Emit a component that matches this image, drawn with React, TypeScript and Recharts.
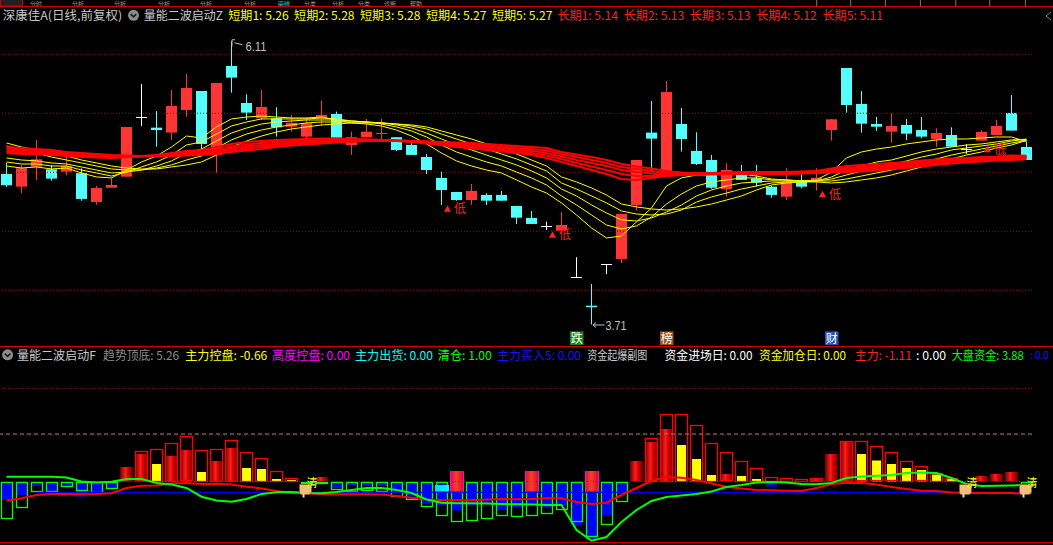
import React from 'react';
import {
  ComposedChart,
  Bar,
  Line,
  XAxis,
  YAxis,
  ReferenceLine,
  ReferenceDot,
} from 'recharts';

// ---------- main panel data (daily candles, 深康佳A) ----------
const opens = [4.986, 4.878, 5.047, 5.025, 5.005, 4.992, 4.748, 4.869, 4.963, 5.466,
  5.378, 5.336, 5.528, 5.689, 5.147, 5.901, 5.587, 5.458, 5.458, 5.386,
  5.302, 5.463, 5.494, 5.231, 5.297, 5.327, 5.297, 5.231, 5.13, 4.952,
  4.833, 4.765, 4.808, 4.808, 4.714, 4.613, 4.547, 4.505, 4.11, 3.869,
  4.22, 4.265, 4.723, 5.336, 4.992, 5.409, 5.181, 5.104, 4.856, 4.986,
  4.949, 4.878, 4.793, 4.92, 4.929, 5.358, 5.884, 5.579, 5.409, 5.344,
  5.401, 5.358, 5.28, 5.316, 5.2, 5.268, 5.316, 5.503, 5.214];
const highs = [5.08, 5.062, 5.274, 5.062, 5.132, 5.034, 4.884, 4.949, 5.384, 5.748,
  5.519, 5.697, 5.833, 5.689, 5.757, 6.11, 5.661, 5.697, 5.551, 5.486,
  5.466, 5.607, 5.514, 5.344, 5.452, 5.452, 5.297, 5.246, 5.155, 5.005,
  4.833, 4.901, 4.822, 4.842, 4.714, 4.672, 4.581, 4.664, 4.28, 4.053,
  4.22, 4.647, 5.104, 5.604, 5.774, 5.545, 5.339, 5.147, 5.076, 5.062,
  5.062, 4.887, 5.034, 4.997, 5.034, 5.449, 5.884, 5.689, 5.471, 5.5,
  5.452, 5.469, 5.373, 5.381, 5.237, 5.358, 5.443, 5.655, 5.259];
const lows = [4.875, 4.822, 4.934, 4.929, 4.977, 4.759, 4.725, 4.869, 4.963, 5.392,
  5.217, 5.274, 5.471, 5.189, 4.997, 5.675, 5.443, 5.443, 5.302, 5.344,
  5.274, 5.392, 5.251, 5.147, 5.297, 5.274, 5.18, 5.147, 4.986, 4.723,
  4.759, 4.723, 4.723, 4.759, 4.562, 4.562, 4.51, 4.505, 4.11, 3.71,
  4.136, 4.229, 4.675, 5.014, 4.99, 5.175, 5.062, 4.86, 4.793, 4.935,
  4.878, 4.785, 4.765, 4.864, 4.844, 5.268, 5.505, 5.336, 5.35, 5.251,
  5.274, 5.288, 5.217, 5.217, 5.155, 5.268, 5.316, 5.353, 5.104];
const closes = [4.89, 5.034, 5.11, 4.946, 5.053, 4.774, 4.867, 4.892, 5.384, 5.466,
  5.358, 5.562, 5.714, 5.24, 5.757, 5.802, 5.505, 5.553, 5.381, 5.42,
  5.415, 5.486, 5.293, 5.297, 5.344, 5.333, 5.189, 5.147, 5.019, 4.85,
  4.765, 4.842, 4.759, 4.759, 4.615, 4.562, 4.547, 4.553, 4.11, 3.856,
  4.22, 4.647, 5.104, 5.285, 5.68, 5.282, 5.07, 4.869, 5.019, 4.935,
  4.912, 4.808, 4.92, 4.878, 4.954, 5.449, 5.57, 5.412, 5.386, 5.392,
  5.327, 5.302, 5.333, 5.217, 5.2, 5.342, 5.392, 5.353, 5.104];

// 短期1..5 (yellow)
const short1 = [5.053, 5.036, 5.045, 5.028, 5.036, 4.994, 4.96, 4.952, 5.019, 5.087,
  5.138, 5.214, 5.307, 5.291, 5.384, 5.452, 5.468, 5.477, 5.468, 5.46,
  5.46, 5.468, 5.443, 5.418, 5.409, 5.392, 5.358, 5.307, 5.24, 5.163,
  5.096, 5.053, 5.019, 4.994, 4.935, 4.875, 4.824, 4.74, 4.638, 4.528,
  4.443, 4.46, 4.579, 4.697, 4.884, 4.952, 4.977, 4.977, 4.985, 4.985,
  4.968, 4.943, 4.935, 4.926, 4.935, 5.002, 5.121, 5.172, 5.197, 5.214,
  5.24, 5.257, 5.274, 5.282, 5.282, 5.291, 5.299, 5.299, 5.26];
const short2 = [5.087, 5.07, 5.07, 5.053, 5.053, 5.019, 4.994, 4.968, 5.002, 5.045,
  5.087, 5.146, 5.231, 5.257, 5.324, 5.392, 5.426, 5.452, 5.452, 5.452,
  5.452, 5.46, 5.452, 5.435, 5.426, 5.409, 5.384, 5.35, 5.299, 5.231,
  5.172, 5.129, 5.087, 5.053, 5.002, 4.952, 4.892, 4.799, 4.723, 4.638,
  4.553, 4.519, 4.545, 4.621, 4.731, 4.816, 4.884, 4.918, 4.935, 4.952,
  4.952, 4.935, 4.935, 4.926, 4.926, 4.96, 5.019, 5.053, 5.087, 5.104,
  5.138, 5.172, 5.197, 5.214, 5.231, 5.24, 5.257, 5.274, 5.28];
const short3 = [5.121, 5.104, 5.096, 5.079, 5.07, 5.045, 5.019, 4.994, 5.002, 5.019,
  5.053, 5.096, 5.163, 5.197, 5.265, 5.333, 5.375, 5.409, 5.426, 5.435,
  5.443, 5.443, 5.443, 5.435, 5.426, 5.418, 5.401, 5.375, 5.333, 5.282,
  5.231, 5.189, 5.146, 5.104, 5.062, 5.011, 4.952, 4.858, 4.799, 4.723,
  4.655, 4.596, 4.587, 4.613, 4.663, 4.723, 4.799, 4.85, 4.884, 4.909,
  4.918, 4.926, 4.926, 4.926, 4.926, 4.943, 4.977, 5.011, 5.036, 5.062,
  5.096, 5.129, 5.155, 5.189, 5.206, 5.223, 5.24, 5.265, 5.28];
const short4 = [5.223, 5.189, 5.163, 5.129, 5.104, 5.079, 5.053, 5.028, 5.019, 5.019,
  5.036, 5.062, 5.104, 5.138, 5.206, 5.274, 5.324, 5.358, 5.384, 5.401,
  5.418, 5.426, 5.426, 5.426, 5.426, 5.418, 5.409, 5.392, 5.367, 5.324,
  5.282, 5.24, 5.197, 5.155, 5.113, 5.062, 5.011, 4.909, 4.858, 4.799,
  4.74, 4.672, 4.646, 4.638, 4.646, 4.68, 4.748, 4.791, 4.824, 4.858,
  4.884, 4.909, 4.918, 4.918, 4.926, 4.926, 4.943, 4.968, 4.994, 5.019,
  5.053, 5.087, 5.113, 5.146, 5.172, 5.197, 5.223, 5.248, 5.27];
const short5 = [5.248, 5.214, 5.189, 5.163, 5.138, 5.104, 5.079, 5.053, 5.036, 5.028,
  5.028, 5.045, 5.062, 5.087, 5.146, 5.214, 5.265, 5.307, 5.341, 5.367,
  5.384, 5.401, 5.409, 5.418, 5.418, 5.418, 5.409, 5.401, 5.384, 5.35,
  5.316, 5.282, 5.24, 5.197, 5.155, 5.104, 5.053, 4.96, 4.918, 4.867,
  4.807, 4.731, 4.706, 4.689, 4.68, 4.689, 4.706, 4.731, 4.765, 4.799,
  4.85, 4.892, 4.909, 4.918, 4.918, 4.909, 4.918, 4.935, 4.952, 4.977,
  5.011, 5.045, 5.079, 5.113, 5.146, 5.172, 5.206, 5.231, 5.27];

// 长期1..5 (red)
const long1 = [5.163, 5.155, 5.155, 5.146, 5.138, 5.129, 5.125, 5.121, 5.129, 5.138,
  5.146, 5.163, 5.18, 5.189, 5.214, 5.24, 5.257, 5.265, 5.274, 5.278,
  5.282, 5.286, 5.286, 5.282, 5.278, 5.274, 5.265, 5.257, 5.244, 5.231,
  5.214, 5.202, 5.189, 5.176, 5.163, 5.146, 5.121, 5.087, 5.053, 5.019,
  4.985, 4.943, 4.935, 4.952, 4.968, 4.985, 4.994, 4.994, 4.998, 5.002,
  5.002, 5.002, 5.002, 5.007, 5.011, 5.032, 5.053, 5.062, 5.07, 5.079,
  5.087, 5.1, 5.108, 5.117, 5.121, 5.129, 5.134, 5.142, 5.14];
const long2 = [5.176, 5.168, 5.163, 5.155, 5.146, 5.138, 5.129, 5.125, 5.129, 5.134,
  5.142, 5.155, 5.168, 5.176, 5.197, 5.219, 5.236, 5.248, 5.257, 5.265,
  5.269, 5.274, 5.278, 5.278, 5.278, 5.274, 5.269, 5.261, 5.252, 5.24,
  5.227, 5.214, 5.202, 5.189, 5.176, 5.163, 5.142, 5.113, 5.079, 5.049,
  5.019, 4.985, 4.968, 4.968, 4.968, 4.977, 4.985, 4.99, 4.994, 4.998,
  4.998, 4.998, 4.998, 5.002, 5.007, 5.019, 5.036, 5.045, 5.053, 5.066,
  5.074, 5.087, 5.096, 5.104, 5.113, 5.117, 5.125, 5.129, 5.13];
const long3 = [5.189, 5.18, 5.172, 5.163, 5.155, 5.146, 5.138, 5.129, 5.129, 5.134,
  5.138, 5.146, 5.155, 5.163, 5.18, 5.202, 5.219, 5.231, 5.24, 5.252,
  5.257, 5.265, 5.269, 5.274, 5.274, 5.274, 5.269, 5.265, 5.257, 5.248,
  5.24, 5.227, 5.214, 5.206, 5.193, 5.18, 5.163, 5.134, 5.104, 5.079,
  5.053, 5.019, 5.002, 4.99, 4.977, 4.977, 4.981, 4.985, 4.99, 4.994,
  4.994, 4.994, 4.994, 4.998, 5.002, 5.011, 5.024, 5.032, 5.041, 5.053,
  5.062, 5.074, 5.083, 5.091, 5.104, 5.108, 5.117, 5.121, 5.13];
const long4 = [5.202, 5.193, 5.185, 5.176, 5.163, 5.155, 5.146, 5.138, 5.138, 5.138,
  5.138, 5.142, 5.146, 5.155, 5.168, 5.185, 5.202, 5.214, 5.227, 5.24,
  5.248, 5.257, 5.261, 5.265, 5.269, 5.269, 5.269, 5.265, 5.261, 5.252,
  5.248, 5.24, 5.227, 5.219, 5.206, 5.197, 5.185, 5.155, 5.129, 5.104,
  5.079, 5.045, 5.028, 5.011, 4.994, 4.985, 4.981, 4.981, 4.985, 4.99,
  4.99, 4.99, 4.99, 4.994, 4.998, 5.002, 5.011, 5.019, 5.028, 5.041,
  5.049, 5.062, 5.07, 5.083, 5.091, 5.1, 5.108, 5.113, 5.12];
const long5 = [5.214, 5.206, 5.197, 5.189, 5.172, 5.163, 5.155, 5.146, 5.142, 5.138,
  5.138, 5.138, 5.142, 5.146, 5.155, 5.172, 5.185, 5.197, 5.214, 5.227,
  5.236, 5.244, 5.252, 5.257, 5.265, 5.265, 5.265, 5.265, 5.261, 5.257,
  5.252, 5.248, 5.24, 5.231, 5.223, 5.214, 5.206, 5.172, 5.151, 5.129,
  5.104, 5.07, 5.049, 5.032, 5.011, 4.998, 4.99, 4.985, 4.985, 4.985,
  4.985, 4.985, 4.985, 4.99, 4.994, 4.998, 5.002, 5.007, 5.015, 5.028,
  5.036, 5.049, 5.062, 5.074, 5.083, 5.091, 5.1, 5.104, 5.11];

const priceGrid = [6.0, 5.5, 5.0, 4.5, 4.0];
const lowMarkIdx = [29, 36, 54, 65];
const lowMarkPrice = [4.72, 4.5, 4.844, 5.225];
const newsIdx = [38, 44, 55];
const newsText = ['跌', '榜', '财'];
const highIdx = 15;
const highPrice = 6.11;
const lowIdx = 39;
const lowPrice = 3.71;

const shortNames = ['短期1', '短期2', '短期3', '短期4', '短期5'];
const shortLast = ['5.26', '5.28', '5.28', '5.27', '5.27'];
const longNames = ['长期1', '长期2', '长期3', '长期4', '长期5'];
const longLast = ['5.14', '5.13', '5.13', '5.12', '5.11'];

// ---------- sub panel data (量能二波启动F) ----------
const n = null;
const volOutline = [n, n, n, n, n, n, n, n, n, 3.05,
  3.25, 3.85, 4.55, 3.15, 3.25, 4.15, 2.95, 2.35, 1.05, 0.35,
  n, n, n, n, n, n, n, n, n, n,
  n, n, n, n, n, n, n, n, n, n,
  n, n, n, 4.4, 6.8, 6.8, 5.7, 3.9, 2.9, 2.1,
  1.4, 0.5, 0.4, 0.3, 0.4, n, 4.1, 4.05, 3.55, 2.9,
  2.1, 1.5, 0.9, 0.4, n, n, n, n, n];
const volFill = [n, n, n, n, n, n, n, n, 1.45, 2.75,
  n, 2.55, 3.15, n, 2.05, 3.35, n, n, n, n,
  n, 0.45, n, n, n, n, n, n, n, n,
  n, n, n, n, n, n, n, n, n, n,
  n, n, 2.05, 3.95, 5.25, n, n, n, 0.75, n,
  n, n, n, n, 0.25, 2.75, 3.95, n, n, n,
  n, n, n, n, n, 0.55, 0.75, 0.95, n];
const volYellow = [n, n, n, n, n, n, n, n, n, n,
  1.75, n, n, 0.95, n, n, 1.35, 1.25, 0.25, 0.15,
  n, n, n, n, n, n, n, n, n, n,
  n, n, n, n, n, n, n, n, n, n,
  n, n, n, n, n, 3.65, 2.25, 0.65, n, 0.55,
  0.25, n, n, n, n, n, n, 2.75, 2.1, 1.75,
  1.35, 1.15, 0.7, 0.3, n, n, n, n, n];
const fundBlue = [-1.85, -1.35, -0.45, -1.0, -0.45, -1.5, -1.15, -0.75, n, n,
  n, n, n, n, n, n, n, n, n, n,
  n, n, -0.65, -0.35, -0.45, -0.45, -1.0, -1.5, -2.2, -2.35,
  -2.9, -2.35, -2.2, -2.85, -2.6, -2.35, -2.65, -2.35, -4.4, -5.85,
  -3.4, -1.2, n, n, n, n, n, n, n, n,
  n, -0.5, n, n, n, n, n, n, n, n,
  n, n, n, n, n, n, n, n, -0.75];
const fundOutline = [-3.65, -2.6, -1.0, -1.0, -0.5, -0.9, -1.1, -0.65, n, n,
  n, n, n, n, n, n, n, n, n, n,
  -0.1, -0.1, -0.75, -1.0, -0.85, -1.0, -1.5, -1.85, -2.5, -3.35,
  -4.0, -3.85, -3.7, -3.35, -3.45, -3.35, -3.2, -2.8, -4.0, -5.45,
  -4.3, -2.0, n, n, n, n, n, n, n, n,
  n, n, n, n, n, n, n, n, n, n,
  n, n, n, n, n, n, n, n, -0.45];
const mainForce = [-1.92, -1.68, -1.35, -1.25, -1.25, -1.28, -1.25, -1.18, -0.65, -0.42,
  -0.4, -0.2, -0.15, -0.25, -0.22, -0.3, -0.52, -0.7, -0.95, -1.15,
  -1.18, -1.28, -1.28, -1.28, -1.28, -1.3, -1.45, -1.62, -1.8, -1.88,
  -1.88, -1.88, -1.8, -1.75, -1.78, -1.75, -1.68, -1.68, -2.05, -2.25,
  -2.12, -1.35, -0.65, 0.05, 0.45, 0.38, 0.15, -0.2, -0.52, -0.7,
  -0.85, -0.88, -0.92, -0.95, -0.65, -0.25, -0.12, -0.15, -0.3, -0.55,
  -0.75, -0.92, -0.95, -1.1, -1.15, -1.15, -1.15, -1.15, -1.25];
const marketFund = [0.48, 0.48, 0.48, 0.48, 0.4, 0.0, -0.1, -0.02, 0.25, 0.25,
  -0.15, -0.3, -0.65, -1.52, -1.9, -2.02, -1.75, -1.25, -1.08, -1.05,
  -1.15, -1.18, -1.05, -0.85, -0.65, -0.65, -0.85, -1.15, -1.8, -2.12,
  -2.18, -2.18, -2.2, -2.25, -2.28, -2.3, -2.35, -2.35, -4.85, -5.92,
  -5.55, -4.05, -2.85, -1.95, -1.55, -1.4, -1.25, -1.0, -0.55, -0.35,
  -0.1, -0.05, -0.1, -0.25, -0.28, -0.15, 0.35, 0.5, 0.58, 0.65,
  0.85, 0.9, 0.85, 0.35, -0.25, -0.45, -0.42, -0.4, -0.35];
const burstIdx = [30, 35, 39];
const burstRange = [-1.02, 1.05];
const entryIdx = [29];
const entryRange = [-1.0, -0.35];
const clearIdx = [20, 64, 68];
const baseLevel = -1.08;
const trendLevel = 4.75;
const subGrid = [9.3, 4.65, 0];

const subHeader = [
  { t: '量能二波启动F', c: '#c8c8c8' },
  { t: '趋势顶底: 5.26', c: '#8c8c8c' },
  { t: '主力控盘: -0.66', c: '#ffff00' },
  { t: '高度控盘: 0.00', c: '#ff00ff' },
  { t: '主力出货: 0.00', c: '#00ffff' },
  { t: '清仓: 1.00', c: '#00ff00' },
  { t: '主力买入5: 0.00', c: '#1414ff' },
  { t: '资金起爆副图', c: '#c8c8c8' },
  { t: '资金进场日: 0.00', c: '#ffffff' },
  { t: '资金加仓日: 0.00', c: '#ffff00' },
  { t: '主力: -1.11', c: '#ff2020' },
  { t: ': 0.00', c: '#ffffff' },
  { t: '大盘资金: 3.88', c: '#00ff00' },
];
const subHeaderX = [16.9, 103.1, 185.3, 272.1, 355, 437.8, 497, 587.3, 664.5, 759, 854.8, 916, 951.7];
const subHeaderW = [79, 76, 82, 78, 78, 54, 84, 60, 88, 87, 57, 30, 72];
const subTail = ': 0.0';

const mainRows = opens.map((open, i) => ({
  i,
  open,
  high: highs[i],
  low: lows[i],
  close: closes[i],
  s1: short1[i], s2: short2[i], s3: short3[i], s4: short4[i], s5: short5[i],
  l1: long1[i], l2: long2[i], l3: long3[i], l4: long4[i], l5: long5[i],
}));

const subRows = opens.map((_, i) => ({
  i,
  outline: volOutline[i],
  fill: volFill[i],
  yellow: volYellow[i],
  blue: fundBlue[i],
  green: fundOutline[i],
  red: mainForce[i],
  market: marketFund[i],
  burst: burstIdx.includes(i) ? burstRange : null,
  entry: entryIdx.includes(i) ? entryRange : null,
}));

const CJK = '"Noto Sans CJK SC", "Noto Sans", sans-serif';
const LATIN = '"Liberation Sans", Arial, sans-serif';
const UP = '#ff3434';
const DOWN = '#54ffff';
const FLAT = '#ffffff';

function box(y: number, height: number) {
  return { top: Math.min(y, y + height), h: Math.abs(height) };
}

function Candle(props: any) {
  const { x, y, width, height, payload } = props;
  if (!payload) return null;
  const { open, close, high, low } = payload;
  const { top, h } = box(y, height);
  const k = h / (high - low || 1);
  const py = (v: number) => top + (high - v) * k;
  const color = close > open ? UP : close < open ? DOWN : FLAT;
  const cx = Math.floor(x + width / 2) + 0.5;
  const left = Math.round(x);
  const w = Math.round(width);
  const bTop = py(Math.max(open, close));
  const bBot = py(Math.min(open, close));
  return (
    <g>
      <line x1={cx} x2={cx} y1={top} y2={top + h} stroke={color} strokeWidth={1} />
      {bBot - bTop < 1.3 ? (
        <line x1={left} x2={left + w} y1={Math.round(bTop) + 0.5} y2={Math.round(bTop) + 0.5} stroke={color} />
      ) : (
        <rect x={left} y={bTop} width={w} height={bBot - bTop} fill={color} />
      )}
    </g>
  );
}

function OutlineBar(color: string) {
  return (p: any) => {
    const { top, h } = box(p.y, p.height);
    const left = Math.round(p.x) + 0.5;
    return (
      <rect x={left} y={Math.round(top) + 0.5} width={Math.round(p.width) - 1} height={Math.max(Math.round(h) - 1, 1)}
        fill="none" stroke={color} strokeWidth={1.3} />
    );
  };
}

function SolidBar(color: string) {
  return (p: any) => {
    const { top, h } = box(p.y, p.height);
    return <rect x={Math.round(p.x)} y={top} width={Math.round(p.width)} height={h} fill={color} />;
  };
}

function CylinderBar(p: any) {
  const { top, h } = box(p.y, p.height);
  const id = `cyl-${p.index}`;
  return (
    <g>
      <defs>
        <linearGradient id={id} x1="0" x2="1" y1="0" y2="0">
          <stop offset="0" stopColor="#6a0000" />
          <stop offset="0.42" stopColor="#ff1c1c" />
          <stop offset="0.6" stopColor="#e00000" />
          <stop offset="1" stopColor="#640000" />
        </linearGradient>
      </defs>
      <rect x={Math.round(p.x)} y={top} width={Math.round(p.width)} height={h} fill={`url(#${id})`} />
    </g>
  );
}

function BurstBar(p: any) {
  const { top, h } = box(p.y, p.height);
  const id = `burst-${p.index}`;
  const left = Math.round(p.x);
  const w = Math.round(p.width);
  return (
    <g>
      <defs>
        <linearGradient id={id} x1="0" x2="1" y1="0" y2="0">
          <stop offset="0" stopColor="#d01818" />
          <stop offset="0.45" stopColor="#ff3a3a" />
          <stop offset="1" stopColor="#c81010" />
        </linearGradient>
      </defs>
      <rect x={left} y={top} width={w} height={h} fill={`url(#${id})`} />
      <line x1={left + 0.5} x2={left + 0.5} y1={top} y2={top + h} stroke="#ff00ff" />
      <line x1={left + w - 0.5} x2={left + w - 0.5} y1={top} y2={top + h} stroke="#ff00ff" />
    </g>
  );
}

function EntryBar(p: any) {
  const { top, h } = box(p.y, p.height);
  const id = `entry-${p.index}`;
  return (
    <g>
      <defs>
        <linearGradient id={id} x1="0" x2="1" y1="0" y2="0">
          <stop offset="0" stopColor="#00d8ff" />
          <stop offset="1" stopColor="#00ffff" />
        </linearGradient>
      </defs>
      <rect x={Math.round(p.x)} y={top} width={Math.round(p.width)} height={h} fill={`url(#${id})`} />
    </g>
  );
}

function LowMark({ cx, cy }: any) {
  return (
    <g>
      <path d={`M${cx + 2.5} ${cy + 6.5} L${cx + 6} ${cy} L${cx + 9.5} ${cy + 6.5} Z`} fill="#ff2020" />
      <text x={cx + 12.5} y={cy + 8} fill="#ff2020" fontSize={12} fontFamily={CJK}>低</text>
    </g>
  );
}

function HighLabel({ cx, cy }: any) {
  return (
    <g stroke="#c0c0c0" fill="none">
      <path d={`M${cx + 0.5} ${cy + 5} V${cy - 1.5} H${cx + 3.5} M${cx + 3} ${cy + 1.5} L${cx + 11} ${cy + 3.5}`} />
      <text x={cx + 14} y={cy + 10} stroke="none" fill="#c0c0c0" fontSize={13} fontFamily={LATIN}
        textLength={21} lengthAdjust="spacingAndGlyphs">{highPrice.toFixed(2)}</text>
    </g>
  );
}

function LowLabel({ cx, cy }: any) {
  return (
    <g stroke="#c0c0c0" fill="none">
      <path d={`M${cx + 1.5} ${cy + 0.5} H${cx + 13} M${cx + 1.5} ${cy + 0.5} L${cx + 4.5} ${cy - 2} M${cx + 1.5} ${cy + 0.5} L${cx + 4.5} ${cy + 3}`} />
      <text x={cx + 14} y={cy + 5.5} stroke="none" fill="#c0c0c0" fontSize={13} fontFamily={LATIN}
        textLength={21} lengthAdjust="spacingAndGlyphs">{lowPrice.toFixed(2)}</text>
    </g>
  );
}

const NEWS_BG = ['#0a8a1a', '#9a5418', '#2654b0'];

function NewsTag({ cx, cy, text, bg }: any) {
  return (
    <g>
      <rect x={cx - 6.5} y={cy - 12} width={13.5} height={14} fill={bg} />
      <text x={cx + 0.25} y={cy - 0.5} textAnchor="middle" fill="#ffffff" fontSize={12} fontFamily={CJK}>{text}</text>
    </g>
  );
}

function ClearIcon({ cx, cy }: any) {
  return (
    <g>
      <path d={`M${cx - 7} ${cy + 3} h9 a3 3 0 0 1 3 3 v4 a3 3 0 0 1 -3 3 h-7 a2 2 0 0 1 -2 -2 z`} fill="#f0c07a" stroke="#8a5a2a" strokeWidth={0.8} />
      <rect x={cx - 4} y={cy + 12} width={2} height={4} fill="#e8d8c0" />
      <text x={cx} y={cy + 5.5} fill="#ffff00" fontSize={11} fontFamily={CJK}>清</text>
    </g>
  );
}

function MenuIcon({ cx, cy }: { cx: number; cy: number }) {
  return (
    <g>
      <circle cx={cx} cy={cy} r={5.5} fill="#8c8c8c" />
      <path d={`M${cx - 2.8} ${cy - 1.2} L${cx} ${cy + 1.6} L${cx + 2.8} ${cy - 1.2}`} stroke="#1c1c1c" strokeWidth={1.6} fill="none" />
    </g>
  );
}

function Label({ x, y, w, c, t }: { x: number; y: number; w: number; c: string; t: string }) {
  return (
    <text x={x} y={y} fill={c} fontSize={12} fontFamily={CJK} textLength={w} lengthAdjust="spacingAndGlyphs">{t}</text>
  );
}

const shortX = [228.2, 294.1, 360, 426, 491.9];
const longX = [557.4, 623.7, 690, 756.2, 822.5];
const tabLines = [816.7, 850.7, 885.4, 920.4, 955.8, 989.8, 1025.4];
const menuX = [30, 72, 114, 158, 200, 244, 278, 304, 332, 358, 384, 410];
const menuText = ['分时', '分析', '分析', '分析', '分析', '分析', '画线', '分类', '分析', '分类', '诊断', '帮助'];

function Overlay() {
  return (
    <svg width={1053} height={545} style={{ position: 'absolute', left: 0, top: 0, pointerEvents: 'none' }}>
      {/* menu bar strip above the header */}
      {menuX.map((x, k) => (
        <text key={k} x={x} y={5.5} fill={k === 6 ? '#00e0e0' : '#9a9a9a'} fontSize={6} fontFamily={CJK}>{menuText[k]}</text>
      ))}
      <rect x={0.5} y={-1} width={22} height={7} fill="#202020" stroke="#d00000" />
      {tabLines.map((x) => (
        <line key={x} x1={x} x2={x} y1={0} y2={6} stroke="#7a7a7a" />
      ))}
      <line x1={0} x2={1053} y1={6.5} y2={6.5} stroke="#d00000" />
      <path d="M1051 12 L1046 16 L1051 20" stroke="#8a8a8a" fill="none" />

      {/* main header */}
      <Label x={2.7} y={19.5} w={119.5} c="#c8c8c8" t="深康佳A(日线,前复权)" />
      <MenuIcon cx={133.5} cy={15.3} />
      <Label x={143.7} y={19.5} w={79.4} c="#c8c8c8" t="量能二波启动Z" />
      {shortNames.map((s, k) => (
        <Label key={s} x={shortX[k]} y={19.5} w={60.5} c="#ffff00" t={`${s}: ${shortLast[k]}`} />
      ))}
      {longNames.map((s, k) => (
        <Label key={s} x={longX[k]} y={19.5} w={60.5} c="#ff2020" t={`${s}: ${longLast[k]}`} />
      ))}

      {/* panel separators */}
      <line x1={0} x2={1053} y1={346.5} y2={346.5} stroke="#d00000" />
      <line x1={0} x2={1053} y1={542.5} y2={542.5} stroke="#d00000" />

      {/* sub header */}
      <MenuIcon cx={7.6} cy={354.8} />
      {subHeader.map((h, k) => (
        <Label key={k} x={subHeaderX[k]} y={359.5} w={subHeaderW[k]} c={h.c} t={h.t} />
      ))}
      <text x={1030} y={359} fill="#1414ff" fontSize={10} fontFamily={CJK}>{subTail}</text>
    </svg>
  );
}

const shortKeys = ['s1', 's2', 's3', 's4', 's5'];
const longKeys = ['l1', 'l2', 'l3', 'l4', 'l5'];

export default function App() {
  return (
    <div style={{ position: 'fixed', left: 0, top: 0, width: 1053, height: 545, background: '#000', overflow: 'hidden' }}>
      <div style={{ position: 'absolute', left: 0, top: 0 }}>
        <ComposedChart width={1053} height={345} data={mainRows} margin={{ top: 0, right: 19, bottom: 0, left: -1 }}>
          <XAxis dataKey="i" hide />
          <YAxis hide type="number" domain={[3.536, 6.46]} allowDataOverflow />
          {priceGrid.map((p) => (
            <ReferenceLine key={p} y={p} stroke="#a00000" strokeDasharray="1 2" />
          ))}
          <Bar dataKey={(d: any) => [d.low, d.high]} barSize={11} shape={(p: any) => <Candle {...p} />} isAnimationActive={false} />
          {shortKeys.map((k) => (
            <Line key={k} dataKey={k} type="linear" stroke="#ffff00" strokeWidth={1} dot={false} activeDot={false} isAnimationActive={false} />
          ))}
          {longKeys.map((k) => (
            <Line key={k} dataKey={k} type="linear" stroke="#ff0000" strokeWidth={2} dot={false} activeDot={false} isAnimationActive={false} />
          ))}
          {lowMarkIdx.map((idx, k) => (
            <ReferenceDot key={`low-${idx}`} x={idx} y={lowMarkPrice[k]} r={0} shape={(p: any) => <LowMark {...p} />} />
          ))}
          <ReferenceDot x={highIdx} y={highPrice} r={0} shape={(p: any) => <HighLabel {...p} />} />
          <ReferenceDot x={lowIdx} y={lowPrice} r={0} shape={(p: any) => <LowLabel {...p} />} />
          {newsIdx.map((idx, k) => (
            <ReferenceDot key={`news-${idx}`} x={idx} y={3.55} r={0}
              shape={(p: any) => <NewsTag {...p} text={newsText[k]} bg={NEWS_BG[k]} />} />
          ))}
        </ComposedChart>
      </div>

      <div style={{ position: 'absolute', left: 0, top: 347 }}>
        <ComposedChart width={1053} height={196} data={subRows} margin={{ top: 0, right: 19, bottom: 0, left: -1 }}>
          <XAxis xAxisId={0} dataKey="i" hide />
          <XAxis xAxisId="blue" dataKey="i" hide />
          <XAxis xAxisId="green" dataKey="i" hide />
          <XAxis xAxisId="fill" dataKey="i" hide />
          <XAxis xAxisId="yellow" dataKey="i" hide />
          <XAxis xAxisId="entry" dataKey="i" hide />
          <XAxis xAxisId="burst" dataKey="i" hide />
          <YAxis hide type="number" domain={[-6.15, 13.45]} allowDataOverflow />
          {subGrid.map((v) => (
            <ReferenceLine key={v} y={v} stroke="#a00000" strokeDasharray="1 2" />
          ))}
          <ReferenceLine y={trendLevel} stroke="#8a8a8a" strokeDasharray="4 3" />
          <Bar xAxisId="blue" dataKey="blue" barSize={11} shape={SolidBar('#0000ff')} isAnimationActive={false} />
          <Bar xAxisId="green" dataKey="green" barSize={12} shape={OutlineBar('#00ff00')} isAnimationActive={false} />
          <Bar xAxisId="fill" dataKey="fill" barSize={13} shape={(p: any) => <CylinderBar {...p} />} isAnimationActive={false} />
          <Bar xAxisId="yellow" dataKey="yellow" barSize={9} shape={SolidBar('#ffff00')} isAnimationActive={false} />
          <Bar xAxisId={0} dataKey="outline" barSize={13} shape={OutlineBar('#ff0000')} isAnimationActive={false} />
          <Bar xAxisId="entry" dataKey="entry" barSize={16} shape={(p: any) => <EntryBar {...p} />} isAnimationActive={false} />
          <ReferenceLine segment={[{ x: 2, y: baseLevel }, { x: 68, y: baseLevel }]} stroke="#0000ff" strokeWidth={1.2} />
          <Line xAxisId={0} dataKey="red" type="linear" stroke="#ff0000" strokeWidth={2} dot={false} activeDot={false} isAnimationActive={false} />
          <Line xAxisId={0} dataKey="market" type="linear" stroke="#00ff00" strokeWidth={2} dot={false} activeDot={false} isAnimationActive={false} />
          <Bar xAxisId="burst" dataKey="burst" barSize={21} shape={(p: any) => <BurstBar {...p} />} isAnimationActive={false} />
          {clearIdx.map((idx) => (
            <ReferenceDot key={`clr-${idx}`} x={idx} y={0} r={0} shape={(p: any) => <ClearIcon {...p} />} />
          ))}
        </ComposedChart>
      </div>

      <Overlay />
    </div>
  );
}
